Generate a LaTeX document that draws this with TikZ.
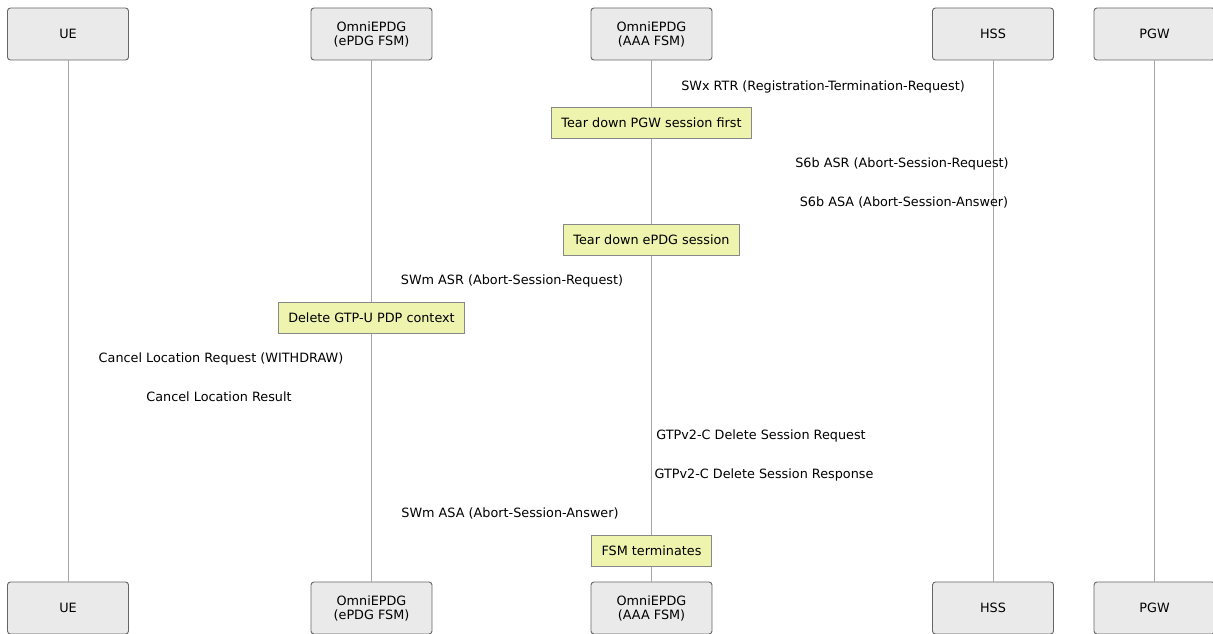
\documentclass[tikz,border=0pt]{standalone}
\usepackage{fontspec}
\setmainfont{DejaVu Sans}
\usepackage{tikz}
\usepackage{xcolor}
\definecolor{actorfill}{HTML}{EAEAEA}
\definecolor{actorline}{HTML}{666666}
\definecolor{notefill}{HTML}{EEF4AE}
\definecolor{noteline}{HTML}{888888}
\definecolor{lifeline}{HTML}{A6A6A6}
\tikzstyle{actor} = [rectangle, draw=actorline, line width=0.9pt, fill=actorfill, rounded corners=3pt, minimum width=121pt, minimum height=52pt, align=center, font=\fontsize{12.8}{14}\selectfont]
\tikzstyle{note} = [rectangle, draw=noteline, line width=0.9pt, fill=notefill, minimum height=31pt, inner xsep=10pt, font=\fontsize{12.8}{14}\selectfont]
\tikzstyle{msg} = [draw=none, inner sep=0pt, font=\fontsize{12.8}{14}\selectfont]
\tikzstyle{life} = [draw=lifeline, line width=0.9pt]

\begin{document}
\begin{tikzpicture}[x=1pt,y=-1pt]
  \useasboundingbox (0,0) rectangle (1213,634);
  \node[actor] (UE) at (68,34) {UE};
  \node[actor] (ePDG) at (371.5,34) {OmniEPDG\\(ePDG FSM)};
  \node[actor] (AAA) at (651.5,34) {OmniEPDG\\(AAA FSM)};
  \node[actor] (HSS) at (993,34) {HSS};
  \node[actor] (PGW) at (1154.5,34) {PGW};
  \node[actor] (UE_b) at (68,608) {UE};
  \node[actor] (ePDG_b) at (371.5,608) {OmniEPDG\\(ePDG FSM)};
  \node[actor] (AAA_b) at (651.5,608) {OmniEPDG\\(AAA FSM)};
  \node[actor] (HSS_b) at (993,608) {HSS};
  \node[actor] (PGW_b) at (1154.5,608) {PGW};

  \foreach \a in {UE,ePDG,AAA,HSS,PGW}
    \path[life] (\a.south) -- (\a_b.north);

  \node[msg] (rtr) at (823,86.5) {SWx RTR (Registration-Termination-Request)};
  \node[note] (pgwfirst) at (651.5,122.5) {Tear down PGW session first};
  \node[msg] (s6bASR) at (902,163.5) {S6b ASR (Abort-Session-Request)};
  \node[msg] (s6bASA) at (904,202.5) {S6b ASA (Abort-Session-Answer)};
  \node[note] (epdgdown) at (651.5,239.5) {Tear down ePDG session};
  \node[msg] (swmASR) at (512,280.5) {SWm ASR (Abort-Session-Request)};
  \node[note] (gtpu) at (371.5,317.5) {Delete GTP-U PDP context};
  \node[msg] (clr) at (221,358.5) {Cancel Location Request (WITHDRAW)};
  \node[msg] (cla) at (219,396.5) {Cancel Location Result};
  \node[msg] (dsreq) at (761,435.5) {GTPv2-C Delete Session Request};
  \node[msg] (dsresp) at (764,474.5) {GTPv2-C Delete Session Response};
  \node[msg] (swmASA) at (510,513.5) {SWm ASA (Abort-Session-Answer)};
  \node[note] (fsmend) at (651.5,550.5) {FSM terminates};
\end{tikzpicture}
\end{document}
